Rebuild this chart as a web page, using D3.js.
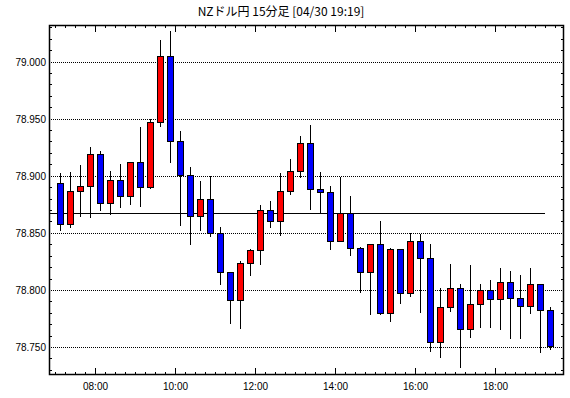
<!DOCTYPE html>
<html>
<head>
<meta charset="utf-8">
<script src="https://cdn.jsdelivr.net/npm/d3@7"></script>
<style>
  body { margin: 0; background: #fff; }
  svg { display: block; }
</style>
</head>
<body>
<script>
// 15分足 data
var times = ["07:00","07:15","07:30","07:45","08:00","08:15","08:30","08:45","09:00","09:15",
  "09:30","09:45","10:00","10:15","10:30","10:45","11:00","11:15","11:30","11:45",
  "12:00","12:15","12:30","12:45","13:00","13:15","13:30","13:45","14:00","14:15",
  "14:30","14:45","15:00","15:15","15:30","15:45","16:00","16:15","16:30","16:45",
  "17:00","17:15","17:30","17:45","18:00","18:15","18:30","18:45","19:00","19:15"];
var opens = [78.894,78.858,78.887,78.891,78.919,78.876,78.896,78.882,78.912,78.890,
  78.947,79.005,78.930,78.901,78.865,78.880,78.850,78.816,78.791,78.824,
  78.835,78.870,78.860,78.887,78.904,78.929,78.888,78.886,78.843,78.867,
  78.837,78.816,78.840,78.780,78.836,78.797,78.843,78.828,78.754,78.785,
  78.802,78.766,78.788,78.800,78.792,78.807,78.793,78.786,78.805,78.782];
var highs = [78.902,78.903,78.909,78.925,78.922,78.904,78.910,78.912,78.943,78.950,
  79.019,79.027,78.939,78.908,78.895,78.900,78.855,78.816,78.825,78.836,
  78.874,78.878,78.902,78.915,78.935,78.944,78.903,78.891,78.899,78.882,
  78.838,78.840,78.860,78.837,78.836,78.850,78.849,78.840,78.802,78.823,
  78.805,78.822,78.805,78.809,78.819,78.817,78.813,78.819,78.805,78.785];
var lows = [78.852,78.854,78.864,78.863,78.869,78.866,78.872,78.874,78.873,78.888,
  78.943,78.911,78.856,78.839,78.852,78.846,78.804,78.770,78.766,78.812,
  78.822,78.854,78.847,78.883,78.898,78.870,78.867,78.835,78.843,78.830,
  78.797,78.778,78.778,78.772,78.788,78.794,78.780,78.746,78.740,78.781,
  78.732,78.758,78.767,78.767,78.765,78.757,78.757,78.779,78.745,78.747];
var closes = [78.858,78.887,78.891,78.919,78.876,78.896,78.882,78.912,78.890,78.947,
  79.005,78.930,78.901,78.865,78.880,78.850,78.816,78.791,78.824,78.835,
  78.870,78.860,78.887,78.904,78.929,78.888,78.886,78.843,78.867,78.837,
  78.816,78.840,78.780,78.836,78.797,78.843,78.828,78.754,78.785,78.802,
  78.766,78.788,78.800,78.792,78.807,78.793,78.786,78.805,78.782,78.751];
var refLevel = 78.867;
var refEnd = "19:15";
var yTicks = [78.750, 78.800, 78.850, 78.900, 78.950, 79.000];
var xTickLabels = ["08:00","10:00","12:00","14:00","16:00","18:00"];
var title = "NZドル円 15分足 [04/30 19:19]";

var width = 570, height = 398;
var margin = { top: 25, right: 6, bottom: 23, left: 49 };

var parse = d3.timeParse("%H:%M");
var candles = times.map(function (t, i) {
  return { t: parse(t), o: opens[i], h: highs[i], l: lows[i], c: closes[i] };
});

var svg = d3.select("body").append("svg")
  .attr("width", width)
  .attr("height", height);

var x = d3.scaleTime()
  .domain([new Date(parse("06:50").getTime() + 30000), parse("19:43")])
  .range([margin.left, width - margin.right]);

var y = d3.scaleLinear()
  .domain([78.7255, 79.032])
  .range([height - margin.bottom, margin.top]);

var x0 = margin.left, x1 = width - margin.right;
var y0 = margin.top, y1 = height - margin.bottom;

function mid(d) {
  return Math.round(x(new Date(d.t.getTime() + 7.5 * 60000)));
}

// title
svg.append("text")
  .attr("x", 281)
  .attr("y", 16)
  .attr("text-anchor", "middle")
  .style("font-family", "'Noto Sans CJK JP', sans-serif")
  .style("font-size", "12px")
  .text(title);

// grid
svg.append("g").selectAll("line").data(yTicks).enter().append("line")
  .attr("x1", x0).attr("x2", x1)
  .attr("y1", function (d) { return Math.round(y(d)) + 0.5; })
  .attr("y2", function (d) { return Math.round(y(d)) + 0.5; })
  .attr("stroke", "#000")
  .attr("stroke-dasharray", "1,1");

// y labels
svg.append("g").selectAll("text").data(yTicks).enter().append("text")
  .attr("x", 46)
  .attr("y", function (d) { return Math.round(y(d)) + 4; })
  .attr("text-anchor", "end")
  .style("font-family", "'Liberation Sans', sans-serif")
  .style("font-size", "10px")
  .text(function (d) { return d3.format(".3f")(d); });

// minor y ticks every 0.01
var minorY = d3.range(78.73, 79.035, 0.01).filter(function (v) {
  return Math.abs(Math.round(v * 20) - v * 20) > 0.01;
});
var yt = svg.append("g").attr("stroke", "#000");
minorY.forEach(function (v) {
  var yy = Math.round(y(v)) + 0.5;
  if (yy < y0 || yy > y1) return;
  yt.append("line").attr("x1", x0).attr("x2", x0 + 3).attr("y1", yy).attr("y2", yy);
  yt.append("line").attr("x1", x1 - 3).attr("x2", x1).attr("y1", yy).attr("y2", yy);
});

// x ticks every 15 min, major every 2 hours
var xt = svg.append("g").attr("stroke", "#000");
d3.timeMinute.every(15).range(x.domain()[0], x.domain()[1]).forEach(function (t) {
  var xx = Math.round(x(t)) + 0.5;
  var major = t.getMinutes() === 0 && t.getHours() % 2 === 0;
  var len = major ? 7 : 3;
  xt.append("line").attr("x1", xx).attr("x2", xx).attr("y1", y0).attr("y2", y0 + len);
  xt.append("line").attr("x1", xx).attr("x2", xx).attr("y1", y1 - len).attr("y2", y1);
});

svg.append("g").selectAll("text").data(xTickLabels).enter().append("text")
  .attr("x", function (d) { return Math.round(x(parse(d))) + 0.5; })
  .attr("y", 390)
  .attr("text-anchor", "middle")
  .style("font-family", "'Liberation Sans', sans-serif")
  .style("font-size", "10px")
  .text(function (d) { return d; });

// reference level
svg.append("line")
  .attr("x1", x0).attr("x2", Math.round(x(parse(refEnd))))
  .attr("y1", Math.round(y(refLevel)) + 0.5)
  .attr("y2", Math.round(y(refLevel)) + 0.5)
  .attr("stroke", "#000");

// candles
var g = svg.append("g").selectAll("g").data(candles).enter().append("g");

g.append("line")
  .attr("x1", function (d) { return mid(d) + 0.5; })
  .attr("x2", function (d) { return mid(d) + 0.5; })
  .attr("y1", function (d) { return Math.round(y(d.h)); })
  .attr("y2", function (d) { return Math.round(y(d.l)); })
  .attr("stroke", "#000");

g.append("rect")
  .attr("x", function (d) { return mid(d) - 2.5; })
  .attr("width", 6)
  .attr("y", function (d) { return Math.round(y(Math.max(d.o, d.c))) + 0.5; })
  .attr("height", function (d) {
    return Math.max(1, Math.round(y(Math.min(d.o, d.c))) - Math.round(y(Math.max(d.o, d.c))));
  })
  .attr("fill", function (d) { return d.c >= d.o ? "#ff0000" : "#0000ff"; })
  .attr("stroke", "#000");

// frame
svg.append("rect")
  .attr("x", x0 + 0.5).attr("y", y0 + 0.5)
  .attr("width", x1 - x0 - 1).attr("height", y1 - y0 - 1)
  .attr("fill", "none")
  .attr("stroke", "#000")
  .attr("stroke-width", 1.5);
</script>
</body>
</html>
